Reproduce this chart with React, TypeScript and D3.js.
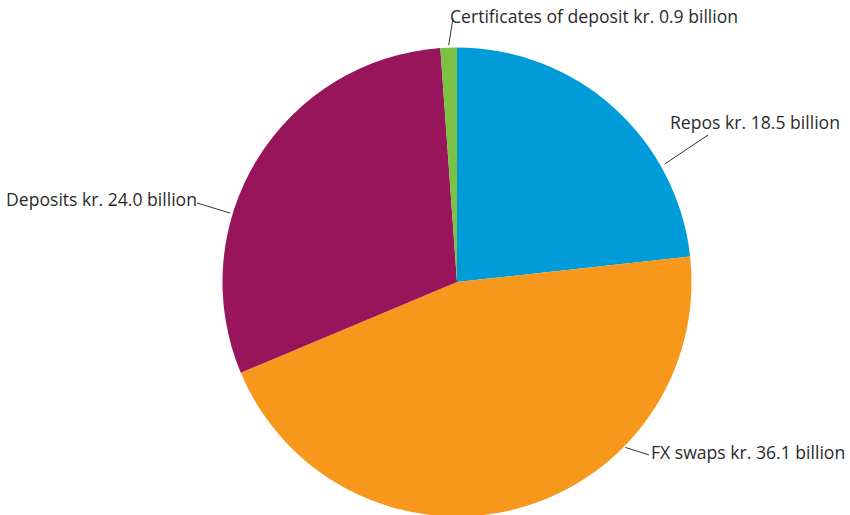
import React from "react";
import * as d3 from "d3";

// slices clockwise from 12 o'clock, NOK billions
const categories = ["Repos", "FX swaps", "Deposits", "Certificates of deposit"];
const values = [18.5, 36.1, 24.0, 0.9];
const labels = [
  "Repos kr. 18.5 billion",
  "FX swaps kr. 36.1 billion",
  "Deposits kr. 24.0 billion",
  "Certificates of deposit kr. 0.9 billion",
];
const colors = ["#009bd9", "#f7971c", "#98155c", "#7bc143"];

// leader line: start angle on the rim (deg from top), end point, text anchor
const leaders = [
  { angle: 60.4, r: 239, end: [708, 135], text: [670, 129], anchor: "start" },
  { angle: 134.5, r: 236, end: [649, 455], text: [651, 459], anchor: "start" },
  { angle: 286.9, r: 237, end: [197, 203], text: [6, 206], anchor: "start" },
  { angle: 358, r: 237, end: [453, 18], text: [450, 23], anchor: "start" },
];

const width = 850;
const height = 515;
const cx = 457;
const cy = 282;
const radius = 234.5;

export default function App() {
  const pie = d3
    .pie<number>()
    .sort(null)
    .value((d) => d);
  const arcs = pie(values);
  const arc = d3.arc<d3.PieArcDatum<number>>().innerRadius(0).outerRadius(radius);

  return (
    <svg
      width={width}
      height={height}
      style={{ position: "absolute", left: 0, top: 0 }}
      fontFamily="'Open Sans', 'Noto Sans', sans-serif"
    >
      <g transform={`translate(${cx},${cy})`}>
        {arcs.map((a, i) => (
          <path key={categories[i]} d={arc(a) || ""} fill={colors[i]} />
        ))}
      </g>
      {leaders.map((l, i) => {
        const rad = (l.angle * Math.PI) / 180;
        const x0 = cx + l.r * Math.sin(rad);
        const y0 = cy - l.r * Math.cos(rad);
        return (
          <g key={labels[i]}>
            <line
              x1={x0}
              y1={y0}
              x2={l.end[0]}
              y2={l.end[1]}
              stroke="#333"
              strokeWidth={1}
            />
            <text
              x={l.text[0]}
              y={l.text[1]}
              fontSize={17.6}
              fill="#2b2b2b"
              textAnchor={l.anchor}
            >
              {labels[i]}
            </text>
          </g>
        );
      })}
    </svg>
  );
}
